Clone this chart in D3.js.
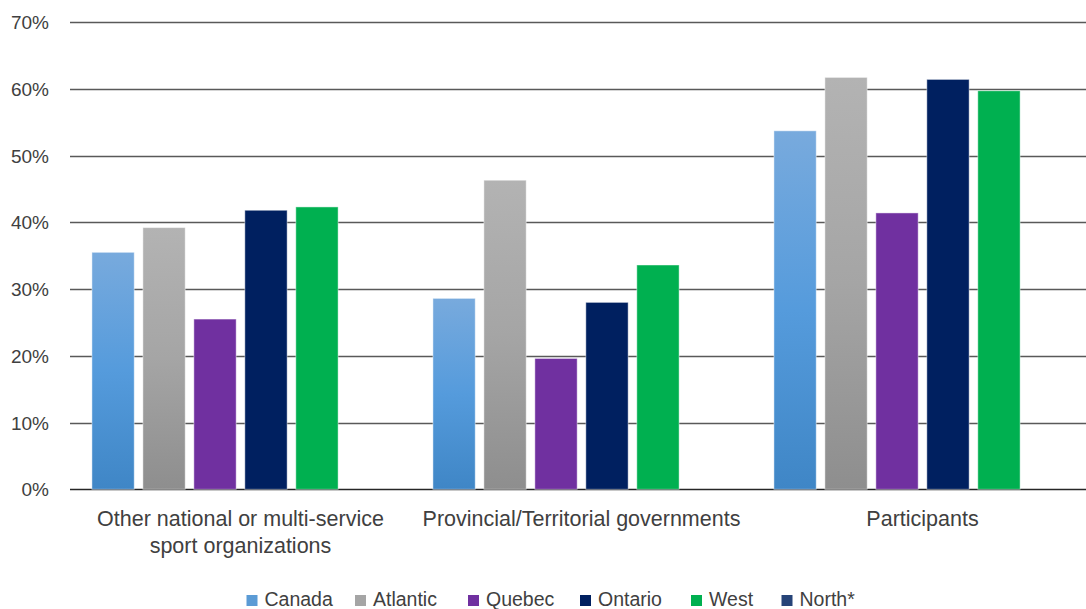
<!DOCTYPE html>
<html>
<head>
<meta charset="utf-8">
<script src="https://cdn.jsdelivr.net/npm/d3@7"></script>
<style>
  html, body { margin: 0; padding: 0; background: #fff; }
  svg { display: block; }
  text { font-family: "Liberation Sans", Arial, sans-serif; fill: #404040; }
</style>
</head>
<body>
<svg id="chart" width="1086" height="609"></svg>
<script>
const categories = [
  ["Other national or multi-service", "sport organizations"],
  ["Provincial/Territorial governments"],
  ["Participants"]
];
const seriesNames = ["Canada", "Atlantic", "Quebec", "Ontario", "West", "North*"];
const canada   = [0.355, 0.286, 0.537];
const atlantic = [0.392, 0.463, 0.617];
const quebec   = [0.255, 0.196, 0.414];
const ontario  = [0.418, 0.280, 0.614];
const west     = [0.423, 0.336, 0.597];
const north    = [null, null, null];
const yTicks = [0, 0.1, 0.2, 0.3, 0.4, 0.5, 0.6, 0.7];

const seriesValues = [canada, atlantic, quebec, ontario, west, north];
const colors = ["url(#gCanada)", "url(#gAtlantic)", "#7030A0", "#002060", "#00B050", "#264478"];
const legendColors = ["#5B9BD5", "#A5A5A5", "#7030A0", "#002060", "#00B050", "#264478"];

const svg = d3.select("#chart");
const defs = svg.append("defs");
function grad(id, top, mid, bot) {
  const g = defs.append("linearGradient").attr("id", id).attr("x1", 0).attr("y1", 0).attr("x2", 0).attr("y2", 1);
  g.append("stop").attr("offset", "0%").attr("stop-color", top);
  g.append("stop").attr("offset", "50%").attr("stop-color", mid);
  g.append("stop").attr("offset", "100%").attr("stop-color", bot);
}
grad("gCanada", "#78AADD", "#559BDC", "#3F86C6");
grad("gAtlantic", "#B3B3B3", "#A5A5A5", "#8E8E8E");

const plotLeft = 70, plotRight = 1093, plotTop = 22, plotBottom = 489.3;
const y = d3.scaleLinear().domain([0, 0.7]).range([plotBottom, plotTop]);
const x0 = d3.scaleBand().domain(d3.range(categories.length)).range([plotLeft, plotRight]);
const x1 = d3.scaleBand().domain(d3.range(seriesNames.length)).range([0, x0.bandwidth()])
  .paddingInner(0.17).paddingOuter(0.43);

// gridlines
const yAxis = d3.axisLeft(y).tickValues(yTicks).tickFormat(d3.format(".0%")).tickSize(0).tickPadding(0);
svg.append("g").selectAll("line").data(yTicks).join("line")
  .attr("x1", plotLeft).attr("x2", 1086)
  .attr("y1", d => Math.round(y(d)) + 0.5).attr("y2", d => Math.round(y(d)) + 0.5)
  .attr("stroke", d => d === 0 ? "#262626" : "#595959").attr("stroke-width", 1.4);

const ga = svg.append("g").attr("transform", "translate(49,0)").call(yAxis);
ga.select(".domain").remove();
ga.selectAll("text").attr("font-size", 19).attr("fill", "#404040")
  .attr("font-family", "Liberation Sans, Arial, sans-serif").attr("dy", "0.35em");

// bars
const groups = svg.append("g").selectAll("g").data(categories).join("g")
  .attr("transform", (d, i) => `translate(${x0(i)},0)`);
groups.each(function(cat, ci) {
  d3.select(this).selectAll("rect")
    .data(seriesValues.map((vals, si) => ({ si, v: vals[ci] })).filter(d => d.v != null))
    .join("rect")
    .attr("x", d => x1(d.si))
    .attr("width", x1.bandwidth())
    .attr("y", d => y(d.v))
    .attr("height", d => y(0) - y(d.v))
    .attr("fill", d => colors[d.si])
    .attr("stroke", "rgba(255,255,255,0.45)")
    .attr("stroke-width", 1);
});

// category labels
categories.forEach((lines, i) => {
  const cx = x0(i) + x0.bandwidth() / 2;
  const t = svg.append("text")
    .attr("x", cx)
    .attr("y", 526)
    .attr("text-anchor", "middle")
    .attr("font-size", 21.5);
  lines.forEach((ln, k) => {
    t.append("tspan").attr("x", cx).attr("dy", k === 0 ? 0 : 27).text(ln);
  });
});

// legend
const legendX = [246.5, 355, 468, 580, 691, 781.5];
const lg = svg.append("g");
seriesNames.forEach((name, i) => {
  lg.append("rect").attr("x", legendX[i]).attr("y", 595).attr("width", 11).attr("height", 11)
    .attr("fill", legendColors[i]);
  lg.append("text").attr("x", legendX[i] + 18).attr("y", 606).attr("font-size", 19.5).text(name);
});
</script>
</body>
</html>
